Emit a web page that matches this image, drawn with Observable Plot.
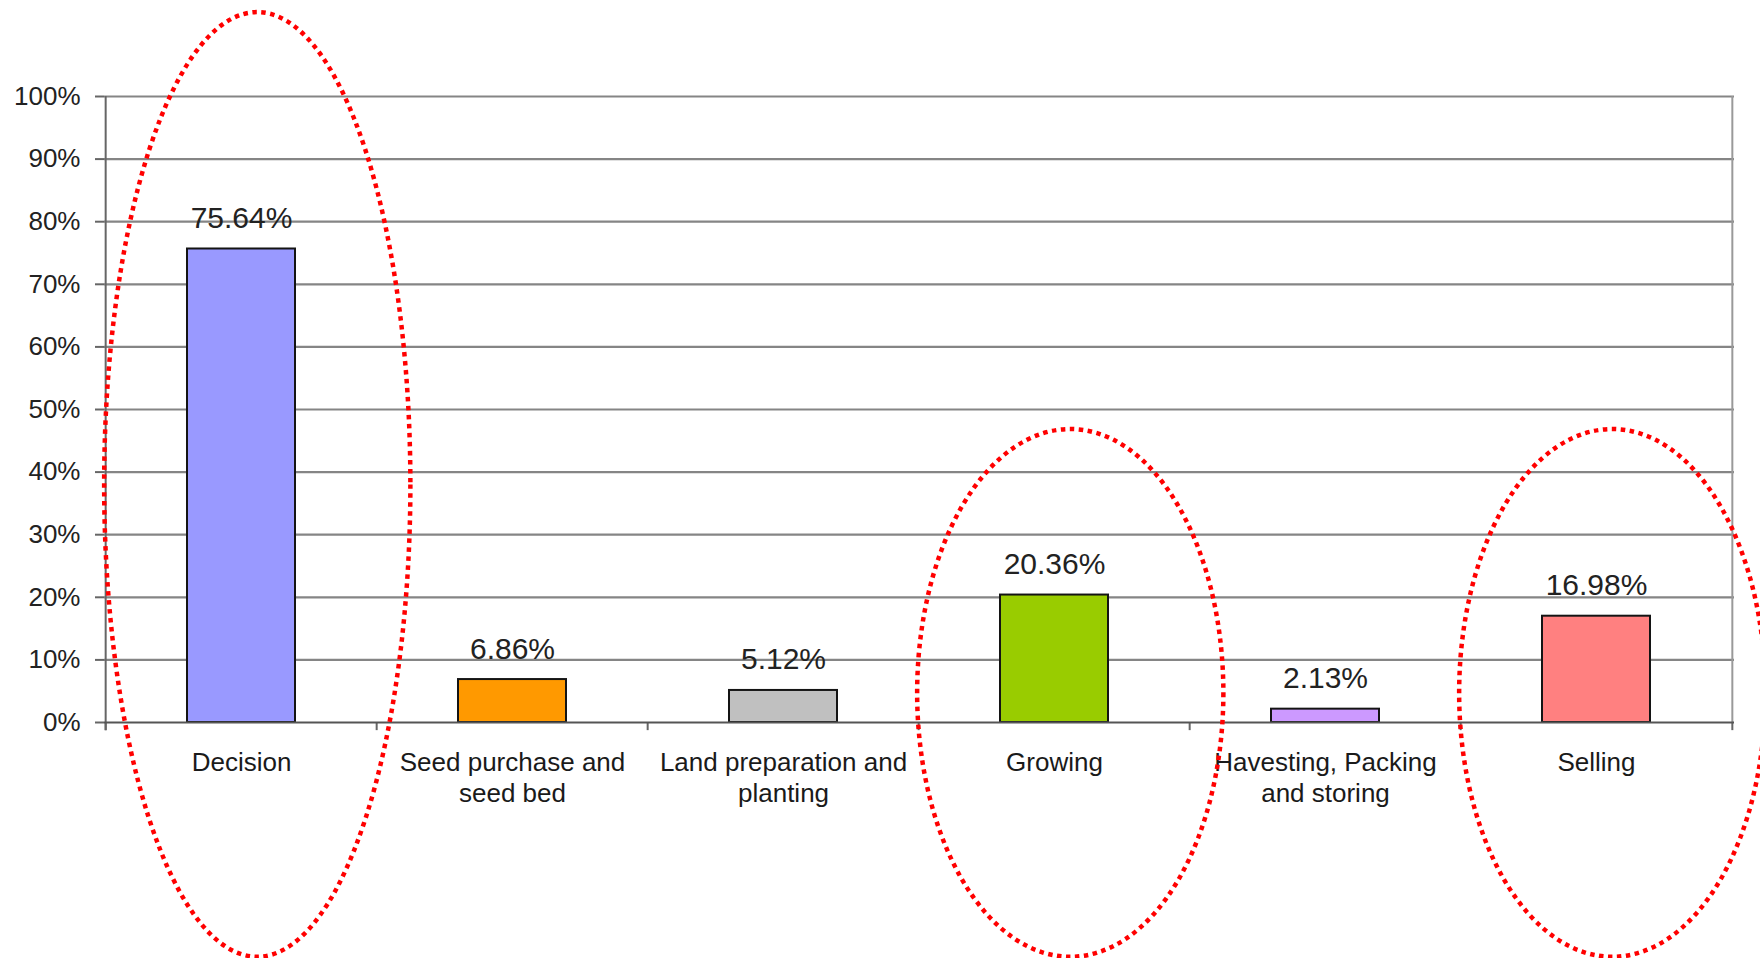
<!DOCTYPE html>
<html>
<head>
<meta charset="utf-8">
<script src="https://cdn.jsdelivr.net/npm/d3@7"></script>
<script src="https://cdn.jsdelivr.net/npm/@observablehq/plot@0.6"></script>
<style>
  html, body { margin: 0; padding: 0; background: #fff; overflow: hidden; }
  #chart svg { display: block; }
</style>
</head>
<body>
<div id="chart"></div>
<script>
// ---- data ----
const categories = [
  "Decision",
  "Seed purchase and\nseed bed",
  "Land preparation and\nplanting",
  "Growing",
  "Havesting, Packing\nand storing",
  "Selling"
];
const values = [75.64, 6.86, 5.12, 20.36, 2.13, 16.98];
const valueLabels = ["75.64%", "6.86%", "5.12%", "20.36%", "2.13%", "16.98%"];
const barColors = ["#9999FF", "#FF9900", "#C0C0C0", "#99CC00", "#CC99FF", "#FF8080"];
const yTicks = [0, 10, 20, 30, 40, 50, 60, 70, 80, 90, 100];

// highlighted categories (red dotted ellipses), in y-value units
const circledCategories = ["Decision", "Growing", "Selling"];
const circleTop = [113.4, 46.8, 46.8];
const circleBottom = [-37.5, -37.5, -37.5];

// ---- layout / style ----
const W = 1760, H = 958;
const mL = 104, mR = 26, mT = 96, mB = 236;
const step = (W - mL - mR) / categories.length;
const font = "'Liberation Sans', Arial, sans-serif";
const ellipseHalfWidth = 0.565; // in band steps
const ellipseShift = 0.06;      // in band steps

const rows = categories.map((c, i) => ({cat: c, value: values[i], label: valueLabels[i], color: barColors[i]}));

const plot = Plot.plot({
  width: W,
  height: H,
  marginLeft: mL,
  marginRight: mR,
  marginTop: mT,
  marginBottom: mB,
  style: {fontFamily: font, background: "#fff", overflow: "visible"},
  x: {domain: categories, paddingInner: 0.6, paddingOuter: 0.3, label: null},
  y: {domain: [0, 100], label: null},
  marks: [
    // horizontal gridlines
    Plot.ruleY(yTicks.filter(d => d > 0), {stroke: "#858585", strokeWidth: 2.2}),
    // bars
    Plot.barY(rows, {x: "cat", y: "value", fill: "color", stroke: "#141414", strokeWidth: 2}),
    // value labels
    Plot.text(rows, {x: "cat", y: "value", text: "label", dy: -21, lineAnchor: "bottom",
      fontSize: 30, fill: "#222", fontFamily: font}),
    // category boundary ticks
    Plot.ruleX(categories, {x: d => d, y1: 0, y2: -1.3, dx: -step / 2, stroke: "#666", strokeWidth: 2}),
    Plot.ruleX([categories[categories.length - 1]], {x: d => d, y1: 0, y2: -1.3, dx: step / 2, stroke: "#666", strokeWidth: 2}),
    // right frame line
    Plot.ruleX([categories[categories.length - 1]], {x: d => d, y1: 100, y2: 0, dx: step / 2, stroke: "#999", strokeWidth: 2}),
    // left axis line
    Plot.ruleX([categories[0]], {x: d => d, y1: 100, y2: -1.3, dx: -step / 2, stroke: "#666", strokeWidth: 2}),
    // baseline
    Plot.ruleY([0], {stroke: "#555", strokeWidth: 2}),
    // y axis
    Plot.axisY({ticks: yTicks, tickFormat: d => d + "%", tickSize: 9, tickPadding: 15,
      fontSize: 26, fill: "#222", stroke: "#666", strokeWidth: 2, fontFamily: font}),
    // x axis labels
    Plot.axisX({tickSize: 0, tickPadding: 27, fontSize: 26, lineHeight: 1.17, fill: "#1a1a1a",
      fontFamily: font, lineAnchor: "top"})
  ]
});

const xs = plot.scale("x");
const ys = plot.scale("y");

const svg = d3.select(plot);
const ell = svg.append("g")
  .attr("fill", "none")
  .attr("stroke", "#ff0000")
  .attr("stroke-width", 4.5)
  .attr("stroke-dasharray", "4.5 4.5");
circledCategories.forEach((c, i) => {
  const cx = xs.apply(c) + xs.bandwidth / 2 + ellipseShift * xs.step;
  const yt = ys.apply(circleTop[i]);
  const yb = ys.apply(circleBottom[i]);
  ell.append("ellipse")
    .attr("cx", cx)
    .attr("cy", (yt + yb) / 2)
    .attr("rx", ellipseHalfWidth * xs.step)
    .attr("ry", Math.abs(yb - yt) / 2);
});

document.getElementById("chart").appendChild(plot);
</script>
</body>
</html>
